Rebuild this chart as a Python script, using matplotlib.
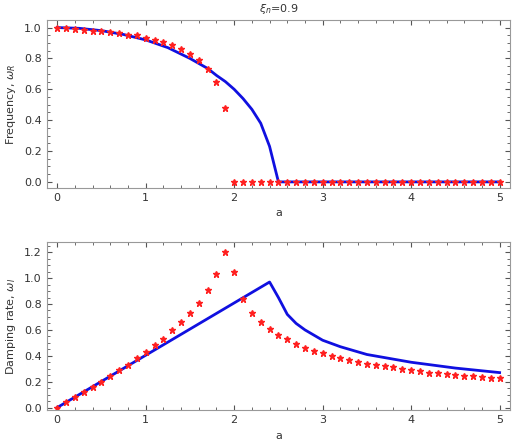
import numpy as np
import matplotlib.pyplot as plt
from matplotlib.ticker import AutoMinorLocator

# red star data, a = 0 .. 5 step 0.1
a_pts = [round(0.1 * i, 1) for i in range(51)]
wr_pts = [0.995, 0.995, 0.99, 0.985, 0.98, 0.975, 0.97, 0.965, 0.955, 0.95,
          0.935, 0.92, 0.905, 0.885, 0.86, 0.83, 0.79, 0.73, 0.65, 0.48] + [0.0] * 31
wi_pts = [0.0, 0.04, 0.08, 0.12, 0.16, 0.2, 0.24, 0.29, 0.33, 0.38,
          0.43, 0.48, 0.53, 0.6, 0.66, 0.73, 0.81, 0.91, 1.03, 1.2,
          1.05, 0.84, 0.73, 0.66, 0.61, 0.56, 0.53, 0.49, 0.46, 0.44,
          0.42, 0.40, 0.38, 0.365, 0.35, 0.34, 0.33, 0.32, 0.31, 0.30,
          0.29, 0.28, 0.27, 0.265, 0.26, 0.25, 0.245, 0.24, 0.235, 0.23, 0.225]

# blue curves
a_wr = [0, 0.25, 0.5, 0.75, 1.0, 1.25, 1.5, 1.7, 1.8, 1.9, 2.0, 2.1, 2.2, 2.3, 2.4, 2.5, 5.0]
wr_line = [1.0, 0.995, 0.98, 0.955, 0.92, 0.87, 0.8, 0.735, 0.69, 0.65, 0.6, 0.54, 0.47, 0.38, 0.23, 0.0, 0.0]
a_wi = [0, 2.4, 2.5, 2.6, 2.7, 2.8, 3.0, 3.2, 3.5, 4.0, 4.5, 5.0]
wi_line = [0.0, 0.97, 0.85, 0.72, 0.65, 0.6, 0.52, 0.47, 0.41, 0.35, 0.305, 0.27]

fig, (ax1, ax2) = plt.subplots(2, 1, figsize=(5.18, 4.41), dpi=100)
fig.subplots_adjust(left=0.09, right=0.985, top=0.955, bottom=0.07, hspace=0.32)

for ax, x, y, xs, ys, ylim in [(ax1, a_wr, wr_line, a_pts, wr_pts, (-0.04, 1.05)),
                                (ax2, a_wi, wi_line, a_pts, wi_pts, (-0.02, 1.28))]:
    ax.plot(x, y, color='#1010e0', lw=2)
    ax.plot(xs, ys, ls='none', marker='*', color='#ff2020', ms=5)
    ax.set_xlim(-0.12, 5.12)
    ax.set_ylim(*ylim)
    ax.set_xticks([0, 1, 2, 3, 4, 5])
    ax.xaxis.set_minor_locator(AutoMinorLocator(5))
    ax.yaxis.set_minor_locator(AutoMinorLocator(4))
    ax.tick_params(which='both', direction='in', top=True, right=True, labelsize=8, colors='#555555', labelcolor='#333333')
    ax.tick_params(which='minor', length=2)
    for s in ax.spines.values():
        s.set_color('#999999')
    ax.set_xlabel('a', fontsize=8, color='#333333')

ax1.set_yticks([0, 0.2, 0.4, 0.6, 0.8, 1.0])
ax2.set_yticks([0, 0.2, 0.4, 0.6, 0.8, 1.0, 1.2])
ax1.set_ylabel(r'Frequency, $\omega_R$', fontsize=8, color='#333333')
ax2.set_ylabel(r'Damping rate, $\omega_I$', fontsize=8, color='#333333')
ax1.set_title(r'$\xi_n$=0.9', fontsize=8, color='#333333')

plt.savefig('out.png')
